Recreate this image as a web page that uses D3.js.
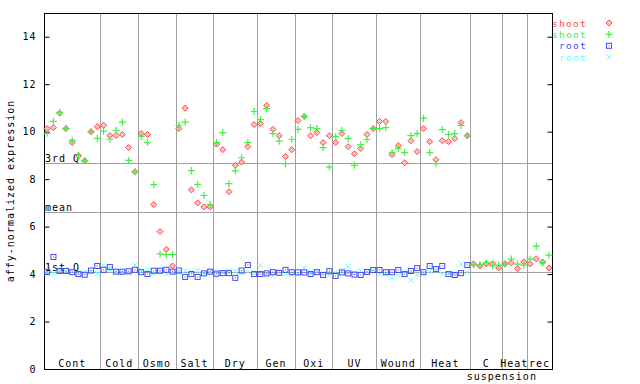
<!DOCTYPE html>
<html>
<head>
<meta charset="utf-8">
<script src="https://cdn.jsdelivr.net/npm/d3@7"></script>
<style>
  body { margin: 0; background: #fff; }
  svg text { font-family: "DejaVu Sans Mono", monospace; font-size: 10px; letter-spacing: 1px; }
</style>
</head>
<body>
<script>
// sample groups along the x axis (one slot per sample)
const groups = ["Cont", "Cold", "Osmo", "Salt", "Dry", "Gen", "Oxi", "UV", "Wound", "Heat", "C", "Heat", "rec"];
const groupSizes = [9, 6, 6, 6, 7, 6, 6, 7, 7, 8, 5, 4, 4];

// expression values, one per sample
const shootA = [10.13, 10.17, 10.78, 10.13, 9.54, 8.98, 8.77, 10.0, 10.21,
  10.27, 9.84, 9.84, 9.88, 9.33, 8.31,
  9.92, 9.88, 6.93, 5.79, 5.04, 4.34,
  10.13, 10.99, 7.55, 7.0, 6.83, 6.83,
  9.47, 9.24, 7.47, 8.58, 8.72, 9.37, 10.3,
  10.34, 11.1, 10.1, 9.83, 8.95, 9.24,
  10.47, 10.64, 9.83, 9.96, 9.54, 9.83,
  9.54, 9.92, 9.37, 9.07, 9.29, 9.88, 10.13,
  10.43, 10.43, 9.03, 9.41, 8.69, 9.62, 9.16,
  10.13, 9.58, 8.82, 9.62, 9.58, 9.71, 10.38, 9.83,
  4.43, 4.34, 4.43, 4.43, 4.26,
  4.43, 4.47, 4.23, 4.51,
  4.43, 4.64, 4.51, 4.26];
const shootB = [9.93, 10.43, 10.81, 10.13, 9.64, 9.0, 8.78, 10.0, 9.72,
  10.02, 9.68, 10.06, 10.4, 8.79, 8.31,
  9.8, 9.54, 7.77, 4.85, 4.82, 4.82,
  10.27, 10.4, 8.36, 7.78, 7.31, 6.93,
  9.54, 9.96, 7.81, 8.35, 8.9, 9.54, 10.85,
  10.51, 10.97, 9.92, 9.6, 8.65, 9.68,
  10.1, 10.64, 10.17, 10.13, 9.33, 8.52,
  9.79, 10.05, 9.71, 8.58, 9.45, 9.67, 10.13,
  10.13, 10.17, 9.12, 9.29, 9.12, 9.83, 9.92,
  10.57, 9.12, 8.65, 10.09, 9.88, 9.92, 10.26, 9.83,
  4.39, 4.39, 4.48, 4.35, 4.38,
  4.42, 4.63, 4.42, 4.38,
  4.63, 5.18, 4.48, 4.8];
const rootA = [4.1, 4.72, 4.13, 4.13, 4.08, 4.0, 3.97, 4.15, 4.34,
  4.18, 4.3, 4.1, 4.1, 4.12, 4.18,
  4.08, 4.0, 4.14, 4.14, 4.18, 4.1,
  4.15, 3.88, 4.0, 3.88, 4.03, 4.1,
  4.02, 4.04, 4.04, 3.84, 4.15, 4.38, 4.0,
  4.0, 4.03, 4.08, 4.05, 4.18, 4.08,
  4.07, 4.07, 4.0, 4.08, 3.96, 4.12,
  3.92, 4.07, 4.03, 3.98, 3.96, 4.09, 4.17,
  4.17, 4.08, 4.08, 4.17, 4.0, 4.13, 4.25,
  4.08, 4.34, 4.21, 4.34, 4.0, 3.96, 4.04, 4.38];
const rootB = [4.03, 4.03, 4.18, 4.1, 4.1, 4.03, 4.07, 4.1, 4.03,
  4.38, 4.2, 4.1, 4.07, 4.03, 4.38,
  4.1, 4.18, 4.03, 4.1, 4.0, 4.1,
  4.05, 4.15, 4.1, 4.15, 4.02, 4.1,
  3.87, 4.08, 4.14, 4.12, 4.05, 4.08, 4.08,
  4.36, 3.94, 3.94, 4.08, 4.02, 3.97,
  4.0, 4.25, 4.08, 4.08, 4.02, 3.96,
  4.08, 4.13, 4.32, 4.04, 4.13, 4.08, 4.13,
  4.0, 4.0, 3.83, 3.92, 4.08, 3.74, 3.97,
  4.04, 4.13, 4.12, 4.0, 4.04, 4.04, 4.42, 4.08];

// reference lines
const refNames = ["3rd Q", "mean", "1st Q"];
const refValues = [8.7, 6.63, 4.1];

const yTicks = [0, 2, 4, 6, 8, 10, 12, 14];

const width = 640, height = 384;
const plotL = 44, plotR = 552, plotT = 13, plotB = 369;

const nSamples = d3.sum(groupSizes);
const x = d3.scaleBand().domain(d3.range(nSamples)).range([plotL, plotR]);
const y = d3.scaleLinear().domain([0, 15]).range([plotB, plotT]);

const svg = d3.select("body").append("svg")
  .attr("width", width)
  .attr("height", height);

// group boundaries
let starts = [];
let acc = 0;
groupSizes.forEach(n => { starts.push(acc); acc += n; });

svg.append("g")
  .selectAll("line")
  .data(starts.slice(1))
  .join("line")
  .attr("x1", d => Math.round(x(d)) + 0.5)
  .attr("x2", d => Math.round(x(d)) + 0.5)
  .attr("y1", plotT)
  .attr("y2", plotB)
  .attr("stroke", "#a0a0a0");

// reference lines + labels
svg.append("g")
  .selectAll("line")
  .data(refValues)
  .join("line")
  .attr("x1", plotL)
  .attr("x2", plotR)
  .attr("y1", d => Math.round(y(d)) + 0.5)
  .attr("y2", d => Math.round(y(d)) + 0.5)
  .attr("stroke", "#a0a0a0");

svg.append("g")
  .selectAll("text")
  .data(refValues)
  .join("text")
  .attr("x", plotL + 1)
  .attr("y", d => Math.round(y(d)) - 1)
  .text((d, i) => refNames[i]);

// axes
const yAxis = d3.axisLeft(y).tickValues(yTicks).tickSizeInner(-5).tickSizeOuter(0).tickPadding(8);
const gy = svg.append("g").attr("transform", `translate(${plotL + 0.5},0)`).call(yAxis);
gy.select(".domain").remove();
gy.selectAll("text").attr("font-family", null).attr("font-size", null).attr("fill", "#000");

const yAxisR = d3.axisRight(y).tickValues(yTicks).tickSizeInner(-5).tickSizeOuter(0).tickFormat("");
const gyr = svg.append("g").attr("transform", `translate(${plotR + 0.5},0)`).call(yAxisR);
gyr.select(".domain").remove();

// frame
svg.append("rect")
  .attr("x", plotL + 0.5).attr("y", plotT + 0.5)
  .attr("width", plotR - plotL).attr("height", plotB - plotT)
  .attr("fill", "none").attr("stroke", "#000");

// group labels
svg.append("g")
  .selectAll("text")
  .data(groups)
  .join("text")
  .attr("text-anchor", "middle")
  .attr("x", (d, i) => (x(starts[i]) + x(starts[i] + groupSizes[i] - 1) + x.bandwidth()) / 2)
  .attr("y", 367)
  .text(d => d);

svg.append("text")
  .attr("text-anchor", "middle")
  .attr("x", x(73))
  .attr("y", 380)
  .text("suspension");

svg.append("text")
  .attr("transform", `translate(14,${(plotT + plotB) / 2}) rotate(-90)`)
  .attr("text-anchor", "middle")
  .text("affy-normalized expression");

// markers
const cx = i => x(i) + x.bandwidth() / 2;
const colors = { shootA: "#ff4848", shootB: "#44f044", rootA: "#4848ff", rootB: "#66ffff" };

function diamond(g, px, py) {
  g.append("path")
    .attr("d", `M${px},${py - 3}L${px + 3},${py}L${px},${py + 3}L${px - 3},${py}Z`)
    .attr("fill", "#ffc0c0").attr("stroke", colors.shootA);
}
function plus(g, px, py) {
  g.append("path")
    .attr("d", `M${px - 3.5},${py}H${px + 3.5}M${px},${py - 3.5}V${py + 3.5}`)
    .attr("stroke", colors.shootB).attr("stroke-width", 1.2);
}
function square(g, px, py) {
  g.append("rect")
    .attr("x", px - 2.5).attr("y", py - 2.5).attr("width", 5).attr("height", 5)
    .attr("fill", "none").attr("stroke", colors.rootA);
  g.append("rect")
    .attr("x", px - 0.5).attr("y", py - 0.5).attr("width", 1).attr("height", 1)
    .attr("fill", colors.rootA);
}
function cross(g, px, py) {
  g.append("path")
    .attr("d", `M${px - 2.5},${py - 2.5}L${px + 2.5},${py + 2.5}M${px - 2.5},${py + 2.5}L${px + 2.5},${py - 2.5}`)
    .attr("stroke", colors.rootB);
}

const gRoot = svg.append("g");
rootB.forEach((v, i) => cross(gRoot, cx(i), y(v)));
rootA.forEach((v, i) => square(gRoot, cx(i), y(v)));
const gShoot = svg.append("g");
shootA.forEach((v, i) => diamond(gShoot, cx(i), y(v)));
shootB.forEach((v, i) => plus(gShoot, cx(i), y(v)));

// legend
const legendNames = ["shoot", "shoot", "root", "root"];
const legendColors = [colors.shootA, colors.shootB, colors.rootA, colors.rootB];
const legendMarks = [diamond, plus, square, cross];
const gl = svg.append("g");
legendNames.forEach((name, i) => {
  const ly = 23 + i * 11.4;
  gl.append("text")
    .attr("x", 587).attr("y", ly + 3.5)
    .attr("text-anchor", "end")
    .style("font-size", "9.5px")
    .style("letter-spacing", "1.3px")
    .attr("fill", legendColors[i])
    .text(name);
  legendMarks[i](gl, 609, ly);
});
</script>
</body>
</html>
